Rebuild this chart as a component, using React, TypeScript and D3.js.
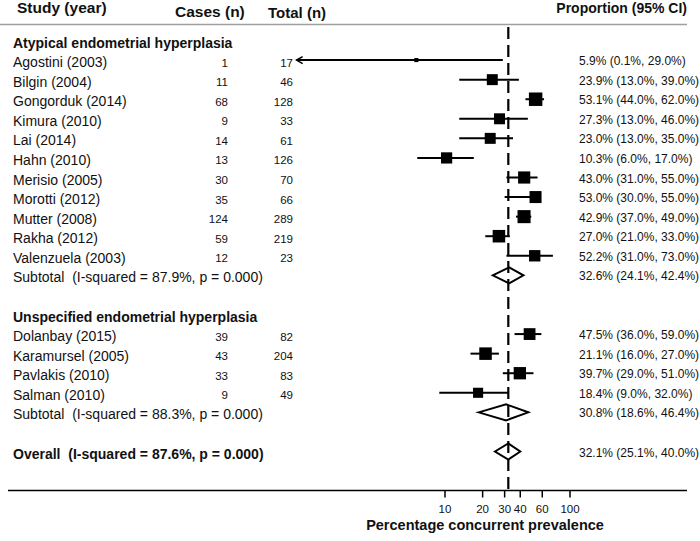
import React from "react";
import * as d3 from "d3";

// ---- Data ----
const groupATitle = "Atypical endometrial hyperplasia";
const studiesA = [
  "Agostini (2003)", "Bilgin (2004)", "Gongorduk (2014)", "Kimura (2010)", "Lai (2014)",
  "Hahn (2010)", "Merisio (2005)", "Morotti (2012)", "Mutter (2008)", "Rakha (2012)", "Valenzuela (2003)",
];
const casesA = [1, 11, 68, 9, 14, 13, 30, 35, 124, 59, 12];
const totalsA = [17, 46, 128, 33, 61, 126, 70, 66, 289, 219, 23];
const estA = [5.9, 23.9, 53.1, 27.3, 23.0, 10.3, 43.0, 53.0, 42.9, 27.0, 52.2];
const loA = [0.1, 13.0, 44.0, 13.0, 13.0, 6.0, 31.0, 30.0, 37.0, 21.0, 31.0];
const hiA = [29.0, 39.0, 62.0, 46.0, 35.0, 17.0, 55.0, 55.0, 49.0, 33.0, 73.0];
const weightA = [0.9, 6.5, 9.8, 6.5, 6.5, 6.8, 8.0, 7.8, 9.2, 8.5, 7.0];
const subtotalA = { label: "Subtotal  (I-squared = 87.9%, p = 0.000)", est: 32.6, lo: 24.1, hi: 42.4 };

const groupBTitle = "Unspecified endometrial hyperplasia";
const studiesB = ["Dolanbay (2015)", "Karamursel (2005)", "Pavlakis (2010)", "Salman (2010)"];
const casesB = [39, 43, 33, 9];
const totalsB = [82, 204, 83, 49];
const estB = [47.5, 21.1, 39.7, 18.4];
const loB = [36.0, 16.0, 29.0, 9.0];
const hiB = [59.0, 27.0, 51.0, 32.0];
const weightB = [7.5, 8.5, 8.2, 5.5];
const subtotalB = { label: "Subtotal  (I-squared = 88.3%, p = 0.000)", est: 30.8, lo: 18.6, hi: 46.4 };

const overall = { label: "Overall  (I-squared = 87.6%, p = 0.000)", est: 32.1, lo: 25.1, hi: 40.0 };

const tickValues = [10, 20, 30, 40, 60, 100];
const axisMin = 0.65;
const axisTitle = "Percentage concurrent prevalence";
const headers = { study: "Study (year)", cases: "Cases (n)", total: "Total (n)", prop: "Proportion (95% CI)" };

// ---- Layout ----
const W = 700;
const H = 541;
const FONT = "Arial, 'Liberation Sans', Helvetica, sans-serif";

const x = d3.scaleLog().domain([10, 100]).range([445, 570]);
const row = d3.scaleLinear().domain([0, 21]).range([40.5, 451.5]);

type Item =
  | { kind: "heading"; r: number; text: string }
  | { kind: "study"; r: number; name: string; cases: number; total: number; est: number; lo: number; hi: number; w: number }
  | { kind: "pooled"; r: number; text: string; est: number; lo: number; hi: number; bold: boolean };

const items: Item[] = [];
let r = 0;
items.push({ kind: "heading", r: r++, text: groupATitle });
studiesA.forEach((name, i) =>
  items.push({ kind: "study", r: r++, name, cases: casesA[i], total: totalsA[i], est: estA[i], lo: loA[i], hi: hiA[i], w: weightA[i] })
);
items.push({ kind: "pooled", r: r++, text: subtotalA.label, est: subtotalA.est, lo: subtotalA.lo, hi: subtotalA.hi, bold: false });
r++;
items.push({ kind: "heading", r: r++, text: groupBTitle });
studiesB.forEach((name, i) =>
  items.push({ kind: "study", r: r++, name, cases: casesB[i], total: totalsB[i], est: estB[i], lo: loB[i], hi: hiB[i], w: weightB[i] })
);
items.push({ kind: "pooled", r: r++, text: subtotalB.label, est: subtotalB.est, lo: subtotalB.lo, hi: subtotalB.hi, bold: false });
r++;
items.push({ kind: "pooled", r: r++, text: overall.label, est: overall.est, lo: overall.lo, hi: overall.hi, bold: true });

const fmt = (v: number) => v.toFixed(1) + "%";
const ciText = (e: number, l: number, h: number) => `${fmt(e)} (${fmt(l)}, ${fmt(h)})`;

export default function App() {
  const dashX = x(overall.est);
  const axisY = 490.5;
  return (
    <svg
      width={W}
      height={H}
      viewBox={`0 0 ${W} ${H}`}
      style={{ position: "absolute", left: 0, top: 0, background: "#fff" }}
      fontFamily={FONT}
    >
      <rect x={0} y={0} width={W} height={H} fill="#fff" />
      {/* headers */}
      <g fontWeight="bold" fill="#111">
        <text x={17} y={13} fontSize={15.5}>{headers.study}</text>
        <text x={175} y={17} fontSize={15.5}>{headers.cases}</text>
        <text x={268} y={18} fontSize={15}>{headers.total}</text>
        <text x={687} y={13} fontSize={14} textAnchor="end">{headers.prop}</text>
      </g>
      <line x1={0} x2={687} y1={24.5} y2={24.5} stroke="#a0a0a0" strokeWidth={1.5} />

      {items.map((it, k) => {
        const y = row(it.r);
        if (it.kind === "heading") {
          return (
            <text key={k} x={13} y={y + 7.5} fontSize={14} fontWeight="bold" fill="#111">{it.text}</text>
          );
        }
        if (it.kind === "study") {
          const clipped = it.lo < axisMin;
          const x1 = x(Math.max(it.lo, axisMin));
          const x2 = x(it.hi);
          const s = Math.sqrt(it.w) * 4.3;
          return (
            <g key={k}>
              <text x={13} y={y + 7} fontSize={14} fill="#111">{it.name}</text>
              <text x={228} y={y + 6.5} fontSize={11.5} textAnchor="end" fill="#111">{it.cases}</text>
              <text x={293} y={y + 6.5} fontSize={11.5} textAnchor="end" fill="#111">{it.total}</text>
              <text x={579} y={y + 5} fontSize={12} fill="#111">{ciText(it.est, it.lo, it.hi)}</text>
              <line x1={x1} x2={x2} y1={y} y2={y} stroke="#000" strokeWidth={2} />
              {clipped && (
                <path d={`M${x1 + 6},${y - 3.5} L${x1},${y} L${x1 + 6},${y + 3.5}`} fill="none" stroke="#000" strokeWidth={1.6} />
              )}
              <rect x={x(it.est) - s / 2} y={y - s / 2} width={s} height={s} fill="#000" />
            </g>
          );
        }
        const xl = x(it.lo), xe = x(it.est), xh = x(it.hi);
        const hh = 8;
        return (
          <g key={k}>
            <text x={13} y={y + 7} fontSize={14} fontWeight={it.bold ? "bold" : "normal"} fill="#111" style={{ whiteSpace: "pre" }}>{it.text}</text>
            <text x={579} y={y + 5} fontSize={12} fill="#111">{ciText(it.est, it.lo, it.hi)}</text>
            <path d={`M${xl},${y} L${xe},${y - hh} L${xh},${y} L${xe},${y + hh} Z`} fill="#fff" stroke="#000" strokeWidth={2} />
          </g>
        );
      })}

      {/* overall dashed line */}
      <line x1={dashX} x2={dashX} y1={27} y2={axisY} stroke="#000" strokeWidth={2.2} strokeDasharray="12 6" />

      {/* axis */}
      <line x1={8} x2={687} y1={axisY} y2={axisY} stroke="#000" strokeWidth={1.5} />
      {tickValues.map((t) => (
        <g key={t}>
          <line x1={x(t)} x2={x(t)} y1={axisY} y2={axisY + 7} stroke="#000" strokeWidth={1.5} />
          <text x={x(t)} y={513} fontSize={11.5} textAnchor="middle" fill="#111">{t}</text>
        </g>
      ))}
      <text x={485} y={530} fontSize={14.5} fontWeight="bold" textAnchor="middle" fill="#111">{axisTitle}</text>
    </svg>
  );
}
